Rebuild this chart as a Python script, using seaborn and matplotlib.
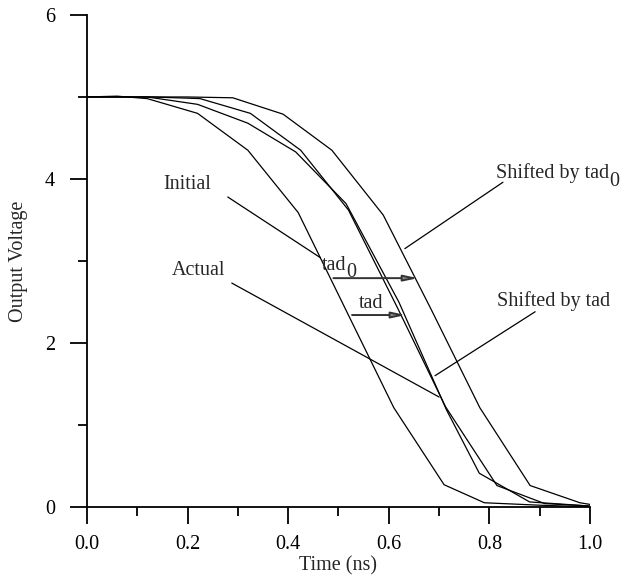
import matplotlib
matplotlib.use("Agg")
import matplotlib.pyplot as plt
import seaborn as sns
import pandas as pd
from matplotlib.ticker import MultipleLocator
from matplotlib.transforms import offset_copy

# ---- data ----
initial_t = [0.0, 0.06, 0.12, 0.22, 0.32, 0.42, 0.515, 0.61, 0.71, 0.79, 0.90, 1.0]
initial_v = [5.0, 5.01, 4.98, 4.80, 4.35, 3.59, 2.40, 1.21, 0.27, 0.05, 0.02, 0.0]

actual_t = [0.0, 0.12, 0.22, 0.32, 0.415, 0.515, 0.62, 0.715, 0.78, 0.88, 1.0]
actual_v = [5.0, 5.0, 4.91, 4.68, 4.33, 3.70, 2.50, 1.18, 0.41, 0.06, 0.01]

shift_tad_t = [0.0, 0.13, 0.225, 0.325, 0.425, 0.52, 0.618, 0.713, 0.815, 0.91, 1.0]
shift_tad_v = [5.0, 5.0, 4.98, 4.80, 4.35, 3.62, 2.42, 1.22, 0.26, 0.04, 0.01]

shift_tad0_t = [0.0, 0.20, 0.29, 0.39, 0.487, 0.589, 0.685, 0.781, 0.881, 0.98, 1.0]
shift_tad0_v = [5.0, 5.0, 4.99, 4.79, 4.35, 3.56, 2.40, 1.21, 0.26, 0.05, 0.03]

series_names = ["Initial", "Actual", "Shifted by tad", "Shifted by tad0"]

x_ticks = [0.0, 0.2, 0.4, 0.6, 0.8, 1.0]
x_tick_labels = ["0.0", "0.2", "0.4", "0.6", "0.8", "1.0"]
y_ticks = [0, 2, 4, 6]
y_tick_labels = ["0", "2", "4", "6"]

frames = []
for name, t, v in zip(series_names,
                      [initial_t, actual_t, shift_tad_t, shift_tad0_t],
                      [initial_v, actual_v, shift_tad_v, shift_tad0_v]):
    frames.append(pd.DataFrame({"t": t, "v": v, "series": name}))
df = pd.concat(frames, ignore_index=True)

sns.set_theme(style="white")
plt.rcParams["font.family"] = ["Liberation Serif", "DejaVu Serif"]
plt.rcParams["axes.linewidth"] = 1.3

FS = 14.5

fig = plt.figure(figsize=(6.25, 5.88), dpi=100)
ax = fig.add_axes([0.139, 0.138, 0.805, 0.8365])

sns.lineplot(data=df, x="t", y="v", hue="series", units="series", estimator=None,
             sort=False, palette=["black"] * 4, linewidth=0.9, legend=False, ax=ax)

ax.set_xlim(0, 1.0)
ax.set_ylim(0, 6)
sns.despine(ax=ax)
ax.spines["left"].set_color("black")
ax.spines["bottom"].set_color("black")

ax.set_xticks(x_ticks)
ax.set_xticklabels(x_tick_labels)
ax.set_yticks(y_ticks)
ax.set_yticklabels(y_tick_labels)
ax.xaxis.set_minor_locator(MultipleLocator(0.1))
ax.yaxis.set_minor_locator(MultipleLocator(1))
ax.tick_params(axis="both", which="major", direction="out", length=12, width=1.3,
               colors="black", labelsize=FS, bottom=True, left=True)
ax.tick_params(axis="both", which="minor", direction="out", length=6.5, width=1.3,
               colors="black", bottom=True, left=True)
ax.tick_params(axis="x", which="major", pad=8)
ax.tick_params(axis="y", which="major", pad=11)

ax.set_xlabel("Time (ns)", fontsize=FS, labelpad=2)
ax.set_ylabel("Output Voltage", fontsize=FS, labelpad=12)


def sub_text(x, y, base, sub, drop=6):
    """Draw base text, then a full-size lowered subscript right after it."""
    t = ax.text(x, y, base, fontsize=FS)
    fig.canvas.draw()
    bb = t.get_window_extent(renderer=fig.canvas.get_renderer())
    x_disp, _ = ax.transData.transform((x, y))
    dx_pts = (bb.x1 - x_disp) * 72.0 / fig.dpi
    tr = offset_copy(ax.transData, fig=fig, x=dx_pts, y=-drop, units="points")
    ax.text(x, y, sub, fontsize=FS, transform=tr)


# annotations with leader lines
def leader(text, xy_text, xy_end, xy_line_start):
    ax.text(*xy_text, text, fontsize=FS)
    ax.plot([xy_line_start[0], xy_end[0]], [xy_line_start[1], xy_end[1]],
            color="black", linewidth=0.9)

leader("Initial", (0.152, 3.88), (0.464, 3.04), (0.280, 3.78))
leader("Actual", (0.168, 2.83), (0.70, 1.34), (0.288, 2.73))
leader("Shifted by tad", (0.816, 2.45), (0.692, 1.60), (0.891, 2.38))
sub_text(0.814, 4.01, "Shifted by tad", "0", drop=6)
ax.plot([0.827, 0.632], [3.96, 3.15], color="black", linewidth=0.9)

# tad arrows
arrow_kw = dict(arrowstyle="-|>,head_length=0.7,head_width=0.15",
                facecolor="#888888", edgecolor="#333333", lw=1.4,
                shrinkA=0, shrinkB=0)
ax.annotate("", xy=(0.658, 2.79), xytext=(0.490, 2.79), arrowprops=arrow_kw)
ax.annotate("", xy=(0.634, 2.34), xytext=(0.527, 2.34), arrowprops=arrow_kw)
sub_text(0.466, 2.89, "tad", "0", drop=5)
ax.text(0.540, 2.43, "tad", fontsize=FS)

fig.savefig("out.png", dpi=100)
